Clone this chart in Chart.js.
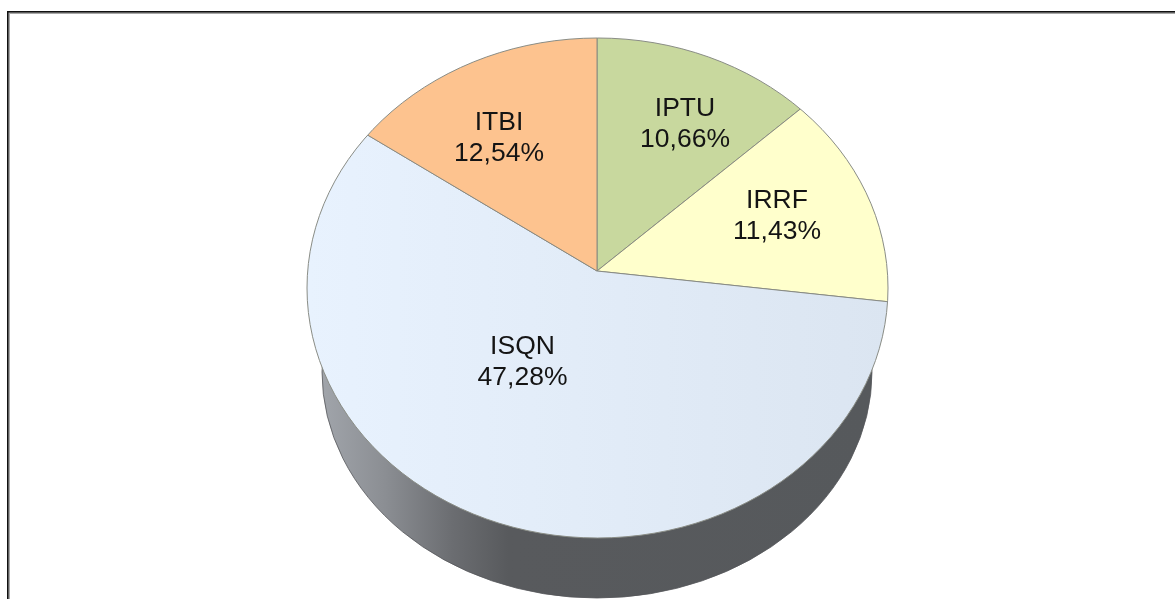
<!DOCTYPE html>
<html>
<head>
<meta charset="utf-8">
<style>
html,body{margin:0;padding:0;background:#fff;overflow:hidden}
canvas{display:block}
</style>
<script src="https://cdn.jsdelivr.net/npm/chart.js@4"></script>
</head>
<body>
<canvas id="c" width="1175" height="599"></canvas>
<script>
const categories = ['IPTU', 'IRRF', 'ISQN', 'ITBI'];
const values = [10.66, 11.43, 47.28, 12.54];
const sliceColors = ['#c8d89e', '#ffffcc', null, '#fdc38f'];

// Layout of the tilted pie
const apex = {x: 597, y: 271};
const tilt = 0.85;
const top_face = {x: 597.5, y: 288, rx: 290.5, ry: 250};
const wall = {x: 597, y: 372, rx: 275, ry: 226};
const labelCenters = [[685, 122], [777, 214], [522.5, 360], [499, 136]];
const labelGap = 31;

const ellipsePath = (ctx, e) => { ctx.beginPath(); ctx.ellipse(e.x, e.y, e.rx, e.ry, 0, 0, Math.PI * 2); };

const pie3d = {
  id: 'pie3d',
  beforeDraw(chart) {
    const ctx = chart.ctx;
    ctx.save();
    ctx.fillStyle = '#fff';
    ctx.fillRect(0, 0, 1175, 599);
    ctx.fillStyle = '#a8a8a8';
    ctx.fillRect(8, 12, 1167, 2);
    ctx.fillRect(8, 12, 2, 587);
    ctx.fillStyle = '#111';
    ctx.fillRect(7, 11, 1168, 1.5);
    ctx.fillRect(7, 11, 1.5, 588);
    ctx.restore();
  },
  beforeDatasetsDraw(chart) {
    const ctx = chart.ctx;
    ctx.save();
    const g = ctx.createLinearGradient(318, 0, 878, 0);
    g.addColorStop(0, '#a2a6ac');
    g.addColorStop(0.12, '#8b8e93');
    g.addColorStop(0.24, '#6b6d71');
    g.addColorStop(0.34, '#585a5d');
    g.addColorStop(1, '#56595c');
    ellipsePath(ctx, wall);
    ctx.fillStyle = g;
    ctx.fill();
    ctx.strokeStyle = '#55575a';
    ctx.lineWidth = 0.8;
    ctx.stroke();
    ctx.restore();

    ctx.save();
    ellipsePath(ctx, top_face);
    ctx.clip();
    ctx.translate(apex.x, apex.y);
    ctx.scale(1, tilt);
    ctx.translate(-apex.x, -apex.y);
  },
  afterDatasetsDraw(chart) {
    const ctx = chart.ctx;
    ctx.restore();
    ctx.save();
    ellipsePath(ctx, top_face);
    ctx.strokeStyle = '#8a8d86';
    ctx.lineWidth = 1;
    ctx.stroke();
    ctx.fillStyle = '#141414';
    ctx.font = '26.5px "Liberation Sans", Arial, sans-serif';
    ctx.textAlign = 'center';
    ctx.textBaseline = 'alphabetic';
    categories.forEach((name, i) => {
      const [x, y] = labelCenters[i];
      ctx.fillText(name, x, y - labelGap / 2 + 9.5);
      ctx.fillText(values[i].toFixed(2).replace('.', ',') + '%', x, y + labelGap / 2 + 9.5);
    });
    ctx.restore();
  }
};

new Chart(document.getElementById('c'), {
  type: 'pie',
  data: {
    labels: categories,
    datasets: [{
      data: values,
      clip: false,
      radius: 400,
      backgroundColor(c) {
        const col = sliceColors[c.dataIndex];
        if (col) return col;
        const g = c.chart.ctx.createLinearGradient(307, 0, 888, 0);
        g.addColorStop(0, '#e8f2fe');
        g.addColorStop(1, '#dbe5f1');
        return g;
      },
      borderColor: '#84877f',
      borderWidth: 1
    }]
  },
  options: {
    responsive: false,
    animation: false,
    layout: {padding: {left: 19, bottom: 57}},
    plugins: {legend: {display: false}, tooltip: {enabled: false}, title: {display: false}}
  },
  plugins: [pie3d]
});
</script>
</body>
</html>
